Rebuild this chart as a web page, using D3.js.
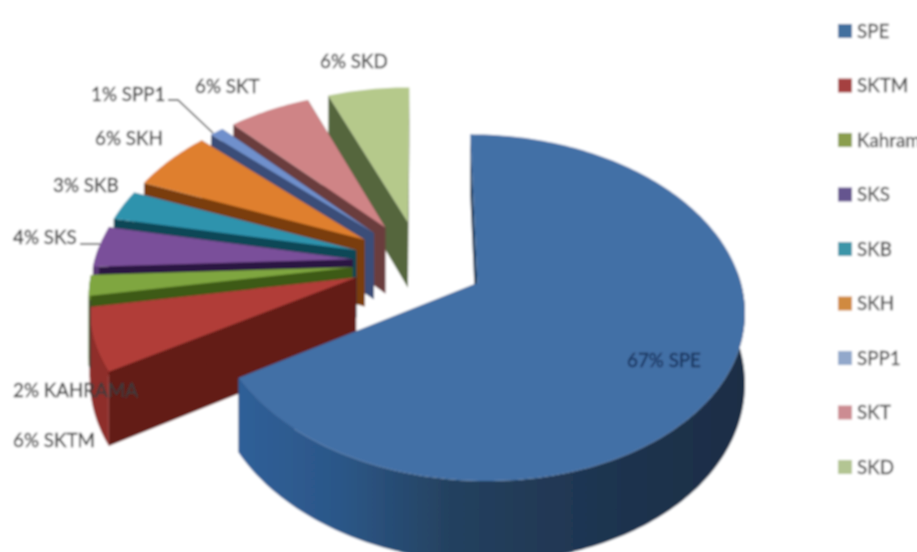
<!DOCTYPE html>
<html><head><meta charset="utf-8">
<script src="https://cdn.jsdelivr.net/npm/d3@7"></script>
<style>html,body{margin:0;padding:0;background:#fff;overflow:hidden}svg{display:block}text{font-family:Lato,"Open Sans",sans-serif}</style>
</head><body><svg id="c" width="917" height="552"></svg>
<script>
// Data
const categories = ["SPE","SKTM","KAHRAMA","SKS","SKB","SKH","SPP1","SKT","SKD"];
const values = [67,6,2,4,3,6,1,6,6];
const legendLabels = ["SPE","SKTM","Kahrama","SKS","SKB","SKH","SPP1","SKT","SKD"];
const topColors = ["#436fa6","#b13d39","#7fa63f","#7a4f9a","#2f93ad","#df7f2e","#7090cc","#cf8486","#b5c98b"];
const wallColors = ["#1f3a5a","#631b19","#3c5a16","#2c1842","#0f4657","#7a3e0c","#3a4e78","#6a3c3e","#55663c"];
const legendColors = ["#426f9f","#a5403f","#8a9e4d","#65548f","#3a95a8","#d08a3f","#92a8cb","#cc8c92","#b3c593"];

// Layout
const W=917,H=552, cx=420, cy=262.5, R=259, T=164, D=68, G=0.14;
const explode = [0.25,0.26,0.26,0.26,0.26,0.26,0.26,0.26,0.26];
const labelLayout = [
 {t:"6% SKD",x:320,y:68},{t:"6% SKT",x:195,y:93},{t:"1% SPP1",x:91,y:101},{t:"6% SKH",x:95,y:145},
 {t:"3% SKB",x:53,y:192},{t:"4% SKS",x:13,y:244},{t:"2% KAHRAMA",x:13,y:397},{t:"6% SKTM",x:13,y:447}
];
const leaders = [[[168,100],[178,100],[213,133]],[[80,244],[100,244]],[[90,300],[90,368]]];

const svg=d3.select("#c");
const defs=svg.append("defs");
const blur=defs.append("filter").attr("id","soft").attr("filterUnits","userSpaceOnUse")
  .attr("x",0).attr("y",0).attr("width",W).attr("height",H);
blur.append("feGaussianBlur").attr("stdDeviation",0.9);
const rimGrad=defs.append("linearGradient").attr("id","rimSPE").attr("gradientUnits","userSpaceOnUse")
  .attr("x1",238).attr("x2",745).attr("y1",0).attr("y2",0);
[[0,"#2f5f98"],[0.2,"#2c5788"],[0.42,"#24415f"],[0.7,"#1f3551"],[1,"#1a2d45"]].forEach(([o,c])=>
  rimGrad.append("stop").attr("offset",o).attr("stop-color",c));

const root=svg.append("g").attr("filter","url(#soft)");
root.append("rect").attr("width",W).attr("height",H).attr("fill","#fff");

const xS=d3.scaleLinear().domain([-1,1]).range([cx-R,cx+R]);
const yS=d3.scaleLinear().domain([-1,1]).range([cy-T,cy+T]);
function project(X,Y,z){
  const p=1/(1-G*Y);
  return [cx+(xS(X)-cx)*p, cy+(yS(Y)-cy)*p+D*z*p];
}
const line=d3.line().curve(d3.curveLinearClosed);
const arcs=d3.pie().sort(null).value(d=>d)(values);

// painter's order: back slices first, the big slice last
const order=[8,7,6,5,4,3,2,1,0];
order.forEach(i=>{
  const a=arcs[i], mid=(a.startAngle+a.endAngle)/2, E=explode[i];
  const ox=E*Math.sin(mid), oy=-E*Math.cos(mid);
  const pt=(th,r,z)=>project(ox+r*Math.sin(th),oy-r*Math.cos(th),z);
  const n=Math.max(6,Math.round((a.endAngle-a.startAngle)/0.02));
  const ths=d3.range(n+1).map(k=>a.startAngle+(a.endAngle-a.startAngle)*k/n);
  const g=root.append("g").attr("class","slice").datum(categories[i]);
  const wall=wallColors[i];
  const rim=i===0?"url(#rimSPE)":d3.interpolateRgb(wall,topColors[i])(0.55);
  // radial faces
  [a.startAngle,a.endAngle].forEach(th=>{
    g.append("path").attr("d",line([pt(th,0,0),pt(th,1,0),pt(th,1,1),pt(th,0,1)])).attr("fill",wall);
  });
  // outer rim: only the part that faces the viewer
  const front=ths.filter(t=>Math.cos(t)<0.08);
  if(front.length>1)
    g.append("path").attr("d",line([...front.map(t=>pt(t,1,0)),...front.slice().reverse().map(t=>pt(t,1,1))])).attr("fill",rim);
  // top face
  g.append("path").attr("d",line([pt(0,0,0),...ths.map(t=>pt(t,1,0))])).attr("fill",topColors[i]);
});

// leaders
root.selectAll("path.leader").data(leaders).join("path").attr("class","leader")
  .attr("d",d3.line()).attr("fill","none").attr("stroke","#3a3a3a").attr("stroke-width",1.4);

// labels
root.selectAll("text.lab").data(labelLayout).join("text").attr("class","lab")
  .attr("x",d=>d.x).attr("y",d=>d.y).attr("font-size",18.8).attr("fill","#3c3c3c")
  .attr("stroke","#3c3c3c").attr("stroke-width",0.3).text(d=>d.t);
root.append("text").attr("x",627).attr("y",367).attr("font-size",18.8).attr("fill","#17305a")
  .attr("stroke","#17305a").attr("stroke-width",0.3).text("67% SPE");

// legend
const ly=d3.scalePoint().domain(legendLabels).range([31,467]);
const lg=root.selectAll("g.leg").data(legendLabels).join("g").attr("class","leg")
  .attr("transform",d=>`translate(838,${ly(d)})`);
lg.append("rect").attr("y",-7).attr("width",14).attr("height",14).attr("fill",(d,i)=>legendColors[i]);
lg.append("text").attr("x",19).attr("y",6.5).attr("font-size",18.8).attr("fill","#444")
  .attr("stroke","#444").attr("stroke-width",0.3).text(d=>d);
</script></body></html>
